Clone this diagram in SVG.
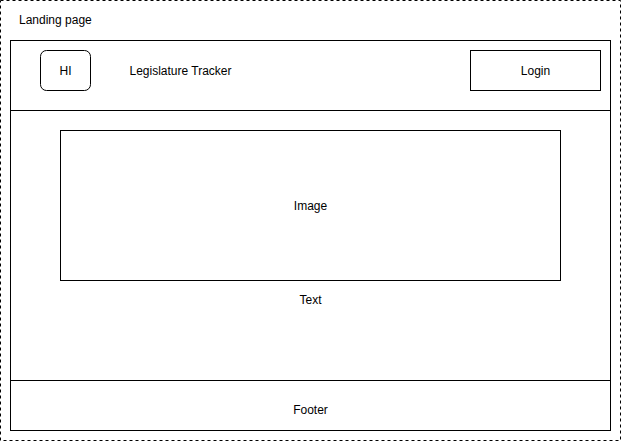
<svg xmlns="http://www.w3.org/2000/svg" width="621" height="441" viewBox="0 0 621 441">
<style>
.b{fill:#fff;stroke:#000;stroke-width:1}
.t{font-family:"Liberation Sans",Arial,Helvetica,sans-serif;font-size:12px;fill:#000;text-anchor:middle;dominant-baseline:central}
</style>
<rect width="621" height="441" fill="#fff"/>
<g id="landing">
<rect x="0.5" y="0.5" width="620" height="440" fill="none" stroke="#000" stroke-dasharray="3 3"/>
<text class="t" x="19" y="20" style="text-anchor:start">Landing page</text>
</g>
<g id="page">
<rect class="b" x="10.5" y="40.5" width="600" height="390"/>
</g>
<g id="header">
<rect class="b" x="10.5" y="40.5" width="600" height="70"/>
</g>
<g id="hi">
<rect class="b" x="40.5" y="50.5" width="50" height="40" rx="6" ry="6"/>
<text class="t" x="65.5" y="70.5">HI</text>
</g>
<g id="title">
<text class="t" x="180.5" y="70.5">Legislature Tracker</text>
</g>
<g id="login">
<rect class="b" x="470.5" y="50.5" width="130" height="40"/>
<text class="t" x="535.5" y="70.5">Login</text>
</g>
<g id="image">
<rect class="b" x="60.5" y="130.5" width="500" height="150"/>
<text class="t" x="310.5" y="205.5">Image</text>
</g>
<g id="text">
<text class="t" x="310.5" y="299.5">Text</text>
</g>
<g id="footer">
<rect class="b" x="10.5" y="380.5" width="600" height="50"/>
<text class="t" x="310.5" y="409.5">Footer</text>
</g>
<g id="connectors"></g>
</svg>
